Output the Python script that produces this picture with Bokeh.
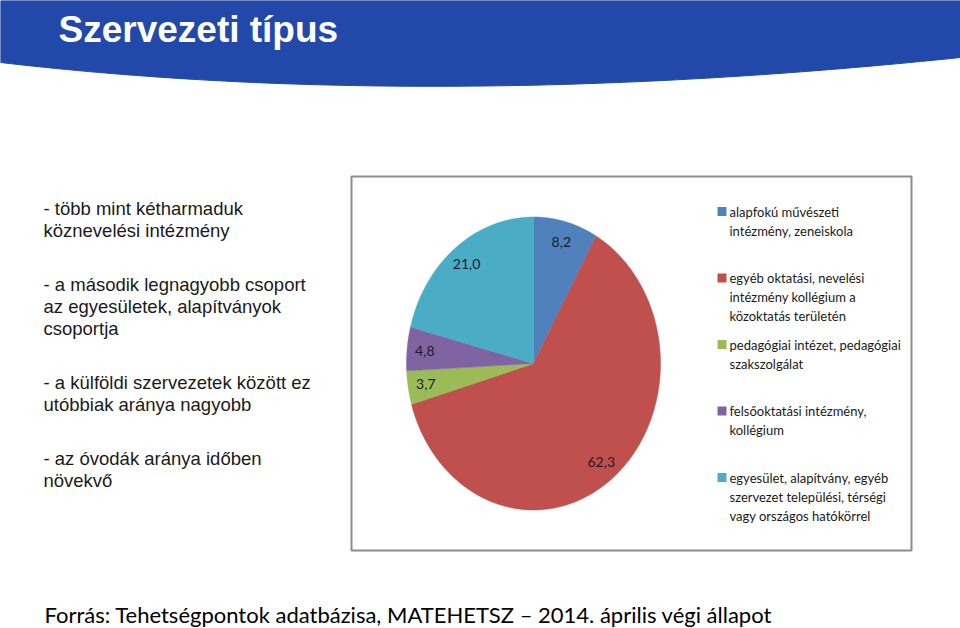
import numpy as np
from bokeh.plotting import figure
from bokeh.models import Range1d
from bokeh.core.properties import value
from bokeh.embed import file_html
from bokeh.resources import INLINE

# ---------------- data ----------------
title_text = "Szervezeti típus"
bullets = [
    "- több mint kétharmaduk\nköznevelési intézmény",
    "- a második legnagyobb csoport\naz egyesületek, alapítványok\ncsoportja",
    "- a külföldi szervezetek között ez\nutóbbiak aránya nagyobb",
    "- az óvodák aránya időben\nnövekvő",
]
categories = [
    "alapfokú művészeti\nintézmény, zeneiskola",
    "egyéb oktatási, nevelési\nintézmény kollégium a\nközoktatás területén",
    "pedagógiai intézet, pedagógiai\nszakszolgálat",
    "felsőoktatási intézmény,\nkollégium",
    "egyesület, alapítvány, egyéb\nszervezet települési, térségi\nvagy országos hatókörrel",
]
values = [8.2, 62.3, 3.7, 4.8, 21.0]
colors = ["#4F81BD", "#C0504D", "#9BBB59", "#8064A2", "#4BACC6"]
source_text = "Forrás: Tehetségpontok adatbázisa, MATEHETSZ – 2014. április végi állapot"

# ---------------- figure (page pixel coordinates) ----------------
W, H = 960, 628
p = figure(width=W, height=H, x_range=Range1d(0, W), y_range=Range1d(H, 0),
           output_backend="svg", toolbar_location=None,
           x_axis_type=None, y_axis_type=None, min_border=0)
p.grid.visible = False
p.outline_line_color = None
p.background_fill_color = "white"
p.border_fill_color = "white"

# header band with curved bottom edge
t = np.linspace(0, 1, 80)
P0, P1, P2 = np.array([0, 62]), np.array([430, 112]), np.array([960, 57])
bx = (1 - t) ** 2 * P0[0] + 2 * t * (1 - t) * P1[0] + t ** 2 * P2[0]
by = (1 - t) ** 2 * P0[1] + 2 * t * (1 - t) * P1[1] + t ** 2 * P2[1]
hx = np.concatenate([[0], bx, [960]])
hy = np.concatenate([[0], by, [0]])
p.patch(hx, hy, fill_color="#2249A9", line_color="#2249A9")

p.text(x=[58], y=[29], text=[title_text], text_color="white",
       text_font=value("Liberation Sans"), text_font_style="bold",
       text_font_size="37px", text_baseline="alphabetic", text_align="left")

# left bullet text
lx, ly, ltxt = [], [], []
y0 = 208
for para in bullets:
    for line in para.split("\n"):
        lx.append(43)
        ly.append(y0)
        ltxt.append(line)
        y0 += 22
    y0 += 32
p.text(x=lx, y=ly, text=ltxt, text_color="#1a1a1a",
       text_font=value("Liberation Sans"), text_font_size="18.5px",
       text_baseline="middle", text_align="left")

# chart frame
p.quad(left=[351], right=[911], top=[176], bottom=[550],
       fill_color="white", line_color="#8C8C8C", line_width=2)

# pie (ellipse, clockwise from 12 o'clock)
cx, cy, rx, ry = 533, 363, 127, 146.5
vals = np.array(values)
cum = np.concatenate([[0], np.cumsum(vals)]) / vals.sum() * 2 * np.pi
xs, ys = [], []
lab_x, lab_y, lab_t = [], [], []
for i in range(len(vals)):
    a = np.linspace(cum[i], cum[i + 1], 120)
    xs.append(list(np.concatenate([[cx], cx + rx * np.sin(a)])))
    ys.append(list(np.concatenate([[cy], cy - ry * np.cos(a)])))
    m = 0.5 * (cum[i] + cum[i + 1])
    lab_x.append(cx + 0.86 * rx * np.sin(m))
    lab_y.append(cy - 0.86 * ry * np.cos(m))
    lab_t.append(f"{values[i]:.1f}".replace(".", ","))
p.patches(xs, ys, fill_color=colors, line_color=colors, line_width=0.5)
p.text(x=lab_x, y=lab_y, text=lab_t, text_color="#1b1b2b",
       text_font=value("Lato"), text_font_size="14px",
       text_baseline="middle", text_align="center")

# legend
sq_x, sq_y = [], []
tx, ty, tt = [], [], []
for i, cat in enumerate(categories):
    yi = 211 + 66.5 * i
    sq_x.append(721.5)
    sq_y.append(yi)
    for j, line in enumerate(cat.split("\n")):
        tx.append(729)
        ty.append(yi + 19 * j)
        tt.append(line)
p.scatter(x=sq_x, y=sq_y, marker="square", size=9, fill_color=colors, line_color=None)
p.text(x=tx, y=ty, text=tt, text_color="#1a1a1a",
       text_font=value("Lato"), text_font_size="13px",
       text_baseline="middle", text_align="left")

# source line
p.text(x=[44], y=[614], text=[source_text], text_color="black",
       text_font=value("Lato"), text_font_size="22px",
       text_baseline="middle", text_align="left")

open("out.html", "w").write(file_html(p, INLINE))
